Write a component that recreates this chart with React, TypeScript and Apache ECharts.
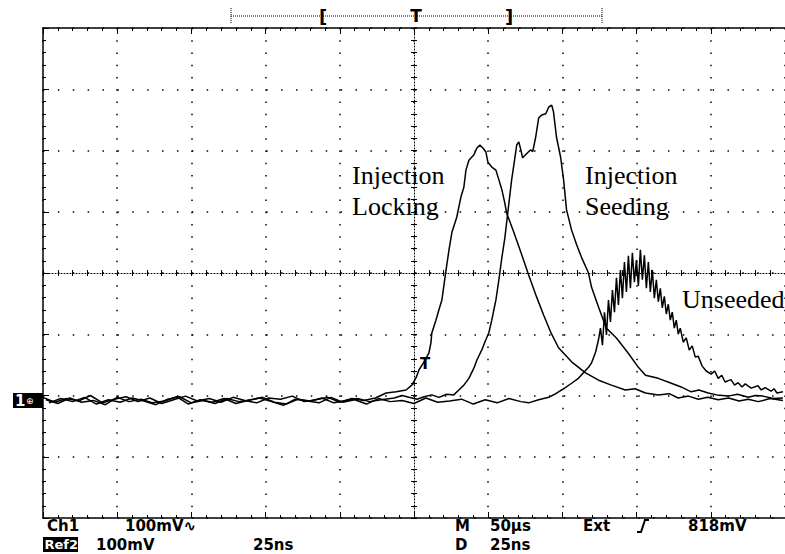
import React, { useEffect, useRef } from "react";
import * as echarts from "echarts";

// Time in ns (25 ns/div, trigger at 0), amplitude in mV (100 mV/div, screen centre at 0)
const lockingTrace: [number, number][] = [
  [-125, -203], [-121, -211], [-117, -205], [-113, -209], [-109, -200], [-105, -212], [-101, -206], [-97, -202],
  [-93, -210], [-89, -204], [-85, -213], [-81, -207], [-77, -201], [-73, -209], [-69, -205], [-65, -211],
  [-61, -203], [-57, -208], [-53, -212], [-49, -204], [-45, -206], [-41, -201], [-37, -210], [-33, -207],
  [-29, -203], [-25, -211], [-21, -205], [-17, -208], [-13, -204],
  [-9.4, -196], [-6, -194], [-2.7, -191], [-0.7, -183], [0.7, -171], [1.7, -158], [3.4, -145], [5, -131],
  [5.7, -114], [6, -98], [7.4, -77], [8.4, -60], [9.4, -44], [10.8, 5], [11.8, 38], [12.8, 67], [14.4, 91],
  [15.8, 124], [16.8, 140], [17.5, 168], [18.5, 184], [20.2, 193], [21.2, 204], [22.2, 209], [23.2, 204],
  [24.2, 198], [24.9, 181], [26.2, 173], [27.6, 168], [28.6, 152], [29.6, 136], [30.6, 114], [31.2, 98],
  [33.6, 67], [36, 34], [38.6, -3], [41.3, -39], [43.7, -69], [46, -96], [48.7, -122], [53.1, -145],
  [57.8, -163], [62.2, -175], [66.5, -183], [71.2, -191], [74.5, -189], [78, -196], [82.3, -199], [86, -197],
  [89, -204], [92.5, -201], [95.8, -206], [99, -203], [102.5, -207], [106, -204], [109.5, -209], [112.6, -206],
  [116, -210], [120, -205], [124.3, -208],
];

const seedingTrace: [number, number][] = [
  [-123, -212], [-119, -205], [-115, -210], [-111, -203], [-107, -214], [-103, -207], [-99, -211], [-95, -204],
  [-91, -209], [-87, -215], [-83, -206], [-79, -202], [-75, -212], [-71, -208], [-67, -213], [-63, -205],
  [-59, -210], [-55, -207], [-51, -203], [-47, -211], [-43, -214], [-39, -206], [-35, -209], [-31, -204],
  [-27, -212], [-23, -208], [-19, -205], [-15, -210], [-11, -207],
  [-6.7, -204], [-4, -200], [-1.7, -203], [1, -206], [3.4, -202], [6, -199], [8.4, -203], [11, -198],
  [13.4, -199], [15.1, -191], [16.8, -183], [18.5, -172], [20.2, -155], [21.2, -142], [22.8, -126],
  [24.2, -109], [25.2, -98], [26.2, -77], [27.6, -44], [28.6, -11], [29.6, 25], [30.6, 57], [31.9, 111],
  [32.9, 152], [33.9, 185], [34.6, 209], [35.3, 214], [36, 201], [36.6, 188], [37.6, 193], [38.6, 198],
  [39.3, 201], [40, 198], [41, 222], [42, 253], [43, 258], [44.4, 260], [45.4, 271], [46.4, 274], [47, 263],
  [48, 222], [49.4, 189], [50.4, 152], [51.4, 103], [53.1, 70], [54.8, 46], [56.4, 26], [58.8, 0],
  [59.8, -23], [62.2, -56], [64.8, -90], [68.2, -106], [72.2, -131], [75.6, -154], [78, -167], [82.3, -172],
  [86.7, -180], [90, -186], [93.4, -194], [96, -191], [99.1, -196], [102, -199], [105.8, -201], [109, -198],
  [112.6, -203], [115, -200], [117.6, -201], [121, -205], [124.3, -204],
];

const unseededTrace: [number, number][] = [
  [-124, -207], [-120, -213], [-116, -204], [-112, -211], [-108, -208], [-104, -215], [-100, -203], [-96, -210],
  [-92, -206], [-88, -212], [-84, -209], [-80, -202], [-76, -214], [-72, -207], [-68, -211], [-64, -205],
  [-60, -213], [-56, -208], [-52, -204], [-48, -210], [-44, -216], [-40, -206], [-36, -209], [-32, -212],
  [-28, -203], [-24, -211], [-20, -207], [-16, -214], [-12, -205], [-8, -210], [-4, -208], [0, -213],
  [4, -204], [8, -211], [12, -209], [16, -206], [20, -214], [24, -207], [28, -212], [32, -205], [36, -210],
  [38.6, -212], [42, -207], [45.4, -203], [47.4, -198], [48.7, -194], [50.4, -189], [53.1, -180], [55.4, -172],
  [57.1, -163], [58.8, -154], [59.8, -147], [61.2, -129],
  [62.16, -109], [62.83, -90], [63.5, -118], [64.18, -64], [64.85, -101], [65.52, -44], [66.19, -80],
  [66.86, -28], [67.54, -64], [68.21, -8], [68.88, -52], [69.55, 5], [70.22, -41], [70.9, 18], [71.57, -31],
  [72.24, 28], [72.91, -25], [73.58, 33], [74.26, -15], [74.93, 21], [75.6, -21], [76.27, 38], [76.94, -11],
  [77.62, 29], [78.29, -25], [78.96, 18], [79.63, -31], [80.3, 5], [80.98, -41], [81.65, -11], [82.32, -47],
  [82.99, -25], [83.66, -57], [84.34, -38], [85.01, -67], [85.68, -51], [86.35, -77], [87.02, -64],
  [87.7, -90], [88.37, -77], [89.04, -100], [89.71, -90], [90.72, -113], [91.73, -106], [92.74, -126],
  [93.74, -119], [94.75, -137], [95.76, -136], [97.1, -152], [98.45, -160],
  [100.1, -165], [101.3, -160], [102.5, -172], [103.7, -167], [104.8, -178], [106.8, -174], [108, -183],
  [109.2, -179], [110.5, -186], [111.6, -181], [113.6, -188], [115.9, -184], [117, -191], [118.3, -187],
  [120.3, -193], [121.3, -189], [122.3, -196], [124.3, -194],
];

const row1Labels = ["Ch1", "100mV\u223F", "M", "50\u00B5s", "Ext", "818mV"];
const row2Labels = ["Ref2", "100mV", "25ns", "D", "25ns"];
const annotations = ["Injection", "Locking", "Injection", "Seeding", "Unseeded"];

const SANS = '"DejaVu Sans", sans-serif';
const SERIF = '"Liberation Serif", "Times New Roman", serif';

function baseAxis(extra: any) {
  return {
    type: "value",
    axisLabel: { show: false },
    axisLine: { onZero: false, lineStyle: { color: "#000", width: 1.5 } },
    axisTick: { show: true, inside: true, length: 6, lineStyle: { color: "#000", width: 1 } },
    minorTick: { show: true, splitNumber: 5, length: 3, lineStyle: { color: "#000", width: 1 } },
    splitLine: { show: false },
    ...extra,
  };
}

export default function App() {
  const ref = useRef<HTMLDivElement>(null);
  useEffect(() => {
    if (!ref.current) return;
    const chart = echarts.init(ref.current, null, { renderer: "svg" });
    const xCommon = { min: -125, max: 125, interval: 25 };
    const yCommon = { min: -400, max: 400, interval: 100 };
    const traceStyle = { color: "#000", width: 1.5 };
    const txt = (x: number, y: number, text: string, extra: any = {}) => ({
      type: "text",
      x,
      y,
      z: 20,
      style: {
        text,
        fill: "#000",
        fontFamily: SANS,
        fontSize: 15,
        lineHeight: 14,
        fontWeight: "bold",
        verticalAlign: "middle",
        ...extra,
      },
    });
    const serif = (x: number, y: number, text: string) =>
      txt(x, y, text, { fontFamily: SERIF, fontSize: 26, lineHeight: 28, fontWeight: "normal" });
    chart.setOption({
      animation: false,
      grid: { left: 43, top: 28, width: 744, height: 490, containLabel: false },
      xAxis: [
        baseAxis({
          ...xCommon,
          position: "bottom",
          splitLine: { show: true, lineStyle: { color: "#000", width: 1.5, type: [1.5, 10.75] } },
        }),
        baseAxis({ ...xCommon, position: "top" }),
        baseAxis({
          ...xCommon,
          position: "bottom",
          axisLine: { onZero: true, onZeroAxisIndex: 0, lineStyle: { color: "#000", width: 1, type: [1, 2] } },
          axisTick: { show: true, inside: true, length: 3, lineStyle: { color: "#000" } },
        }),
        baseAxis({
          ...xCommon,
          position: "bottom",
          axisLine: { show: false, onZero: true, onZeroAxisIndex: 0 },
          axisTick: { show: true, inside: false, length: 3, lineStyle: { color: "#000" } },
        }),
      ],
      yAxis: [
        baseAxis({
          ...yCommon,
          position: "left",
          splitLine: { show: true, lineStyle: { color: "#000", width: 1.5, type: [1.5, 13.38] } },
        }),
        baseAxis({
          ...yCommon,
          position: "left",
          axisLine: { onZero: true, onZeroAxisIndex: 0, lineStyle: { color: "#000", width: 1, type: [1, 2] } },
          axisTick: { show: true, inside: true, length: 3, lineStyle: { color: "#000" } },
        }),
        baseAxis({
          ...yCommon,
          position: "left",
          axisLine: { show: false, onZero: true, onZeroAxisIndex: 0 },
          axisTick: { show: true, inside: false, length: 3, lineStyle: { color: "#000" } },
        }),
      ],
      series: [
        { type: "line", name: "Injection Locking", data: lockingTrace, symbol: "none", lineStyle: traceStyle, z: 5 },
        { type: "line", name: "Injection Seeding", data: seedingTrace, symbol: "none", lineStyle: traceStyle, z: 5 },
        { type: "line", name: "Unseeded", data: unseededTrace, symbol: "none", lineStyle: { color: "#000", width: 1.5 }, z: 5 },
      ],
      graphic: [
        // record-length bar
        { type: "line", shape: { x1: 231, y1: 16, x2: 602, y2: 16 }, style: { stroke: "#000", lineWidth: 1, lineDash: [1, 1] } },
        { type: "line", shape: { x1: 231, y1: 8, x2: 231, y2: 24 }, style: { stroke: "#000", lineWidth: 1, lineDash: [1, 1] } },
        { type: "line", shape: { x1: 602, y1: 8, x2: 602, y2: 24 }, style: { stroke: "#000", lineWidth: 1, lineDash: [1, 1] } },
        txt(323, 16, "[", { align: "center", fontSize: 18, lineHeight: 18 }),
        txt(416, 16, "T", { align: "center", fontSize: 17, lineHeight: 17 }),
        txt(509, 16, "]", { align: "center", fontSize: 18, lineHeight: 18 }),
        // channel ground marker
        { type: "rect", z: 20, shape: { x: 13, y: 393, width: 30, height: 15 }, style: { fill: "#000" } },
        txt(15, 401, "1", { fill: "#fff", fontSize: 15 }),
        txt(26, 401, "\u2295", { fill: "#fff", fontSize: 9, lineHeight: 9, fontWeight: "normal" }),
        // trigger level marker
        txt(425, 364, "T", { align: "center", fontSize: 15 }),
        // annotations
        serif(352, 175, annotations[0]),
        serif(352, 206, annotations[1]),
        serif(585, 175, annotations[2]),
        serif(585, 206, annotations[3]),
        serif(682, 299, annotations[4]),
        // readouts row 1
        txt(47, 525.5, row1Labels[0]),
        txt(125, 525.5, row1Labels[1]),
        txt(455, 525.5, row1Labels[2]),
        txt(490, 525.5, row1Labels[3]),
        txt(583, 525.5, row1Labels[4]),
        { type: "polyline", z: 20, shape: { points: [[637, 532], [641, 532], [645, 520], [649, 520]] }, style: { stroke: "#000", lineWidth: 2, fill: "none" } },
        txt(688, 525.5, row1Labels[5]),
        // readouts row 2
        { type: "rect", z: 20, shape: { x: 43, y: 537, width: 35, height: 15 }, style: { fill: "#000" } },
        txt(44.5, 544.5, row2Labels[0], { fill: "#fff", fontSize: 13 }),
        txt(96, 544.5, row2Labels[1]),
        txt(253, 544.5, row2Labels[2]),
        txt(455, 544.5, row2Labels[3]),
        txt(490, 544.5, row2Labels[4]),
      ],
    });
    return () => chart.dispose();
  }, []);
  return <div ref={ref} style={{ position: "absolute", left: 0, top: 0, width: 785, height: 554 }} />;
}
